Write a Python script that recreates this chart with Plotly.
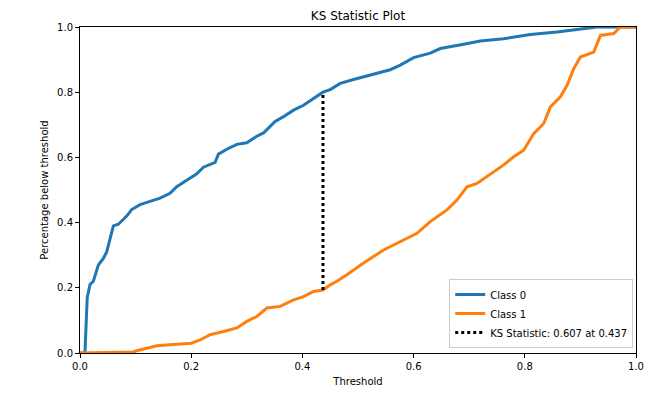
import plotly.graph_objects as go

# Class 0 cumulative curve (threshold, fraction below)
class0_x = [0.0, 0.008, 0.009, 0.013, 0.018, 0.024, 0.033, 0.042, 0.048, 0.054, 0.06, 0.069, 0.078,
            0.084, 0.093, 0.108, 0.126, 0.144, 0.162, 0.174, 0.192, 0.21, 0.222, 0.243, 0.249, 0.264,
            0.282, 0.3, 0.318, 0.33, 0.342, 0.351, 0.366, 0.384, 0.402, 0.42, 0.437, 0.45, 0.468,
            0.492, 0.51, 0.54, 0.558, 0.576, 0.6, 0.63, 0.648, 0.69, 0.72, 0.762, 0.81, 0.858, 0.9,
            0.93, 1.0]
class0_y = [0.0, 0.0, 0.005, 0.17, 0.21, 0.22, 0.27, 0.29, 0.31, 0.35, 0.39, 0.395, 0.41,
            0.42, 0.44, 0.455, 0.465, 0.475, 0.49, 0.51, 0.53, 0.55, 0.57, 0.585, 0.61, 0.625,
            0.64, 0.645, 0.665, 0.675, 0.695, 0.71, 0.725, 0.745, 0.76, 0.78, 0.8, 0.808, 0.827,
            0.839, 0.847, 0.862, 0.869, 0.883, 0.906, 0.92, 0.934, 0.947, 0.957, 0.964, 0.977, 0.985, 0.995,
            1.0, 1.0]

# Class 1 cumulative curve
class1_x = [0.0, 0.096, 0.102, 0.12, 0.138, 0.162, 0.2, 0.216, 0.234, 0.258, 0.282, 0.3, 0.318,
            0.336, 0.36, 0.384, 0.402, 0.42, 0.437, 0.45, 0.462, 0.48, 0.51, 0.546, 0.57, 0.606,
            0.63, 0.66, 0.678, 0.696, 0.714, 0.744, 0.762, 0.78, 0.798, 0.816, 0.834, 0.846,
            0.864, 0.876, 0.888, 0.9, 0.924, 0.936, 0.96, 0.972, 1.0]
class1_y = [0.0, 0.003, 0.007, 0.015, 0.022, 0.025, 0.03, 0.04, 0.056, 0.066, 0.077, 0.097, 0.112,
            0.138, 0.143, 0.163, 0.173, 0.189, 0.193, 0.209, 0.22, 0.24, 0.276, 0.316, 0.337, 0.367,
            0.403, 0.439, 0.469, 0.51, 0.52, 0.556, 0.577, 0.602, 0.622, 0.673, 0.704, 0.755,
            0.786, 0.821, 0.872, 0.908, 0.923, 0.974, 0.98, 1.0, 1.0]

ks_x = [0.437, 0.437]
ks_y = [0.193, 0.8]
ks_label = "KS Statistic: 0.607 at 0.437"

x_ticks = [0.0, 0.2, 0.4, 0.6, 0.8, 1.0]
y_ticks = [0.0, 0.2, 0.4, 0.6, 0.8, 1.0]

font = "DejaVu Sans"

# page has an 8px body margin; size the figure so the plot area lands where the reference has it
W, H = 662, 391
L, R, T, B = 72, 34, 19, 46

fig = go.Figure()
fig.add_trace(go.Scatter(x=class0_x, y=class0_y, mode="lines", name="Class 0",
                         line=dict(color="#1f77b4", width=3)))
fig.add_trace(go.Scatter(x=class1_x, y=class1_y, mode="lines", name="Class 1",
                         line=dict(color="#ff7f0e", width=3)))
fig.add_trace(go.Scatter(x=ks_x, y=ks_y, mode="lines", name=ks_label,
                         line=dict(color="black", width=3, dash="3px,3px")))

axis_common = dict(
    showgrid=False, zeroline=False, showline=True, linecolor="black", linewidth=1,
    mirror=True, ticks="outside", ticklen=4, tickwidth=1, tickcolor="black",
    tickfont=dict(family=font, size=10, color="black"),
    tickformat=".1f",
)

fig.update_layout(
    width=W, height=H,
    margin=dict(l=L, r=R, t=T, b=B),
    paper_bgcolor="white", plot_bgcolor="white",
    font=dict(family=font, size=10, color="black"),
    title=dict(text="KS Statistic Plot", x=(L + (W - L - R) / 2) / W, xanchor="center",
               y=1 - 8 / H, yanchor="middle", font=dict(family=font, size=12, color="black")),
    xaxis=dict(range=[0, 1], tickvals=x_ticks,
               title=dict(text="Threshold", font=dict(family=font, size=10), standoff=6),
               **axis_common),
    yaxis=dict(range=[0, 1], tickvals=y_ticks,
               title=dict(text="Percentage below threshold", font=dict(family=font, size=10), standoff=6),
               **axis_common),
    legend=dict(x=0.995, y=0.015, xanchor="right", yanchor="bottom",
                bgcolor="rgba(255,255,255,0.8)", bordercolor="#cccccc", borderwidth=1,
                font=dict(family=font, size=10, color="black"),
                tracegroupgap=0, itemwidth=30),
    showlegend=True,
)

fig.write_html("out.html")
